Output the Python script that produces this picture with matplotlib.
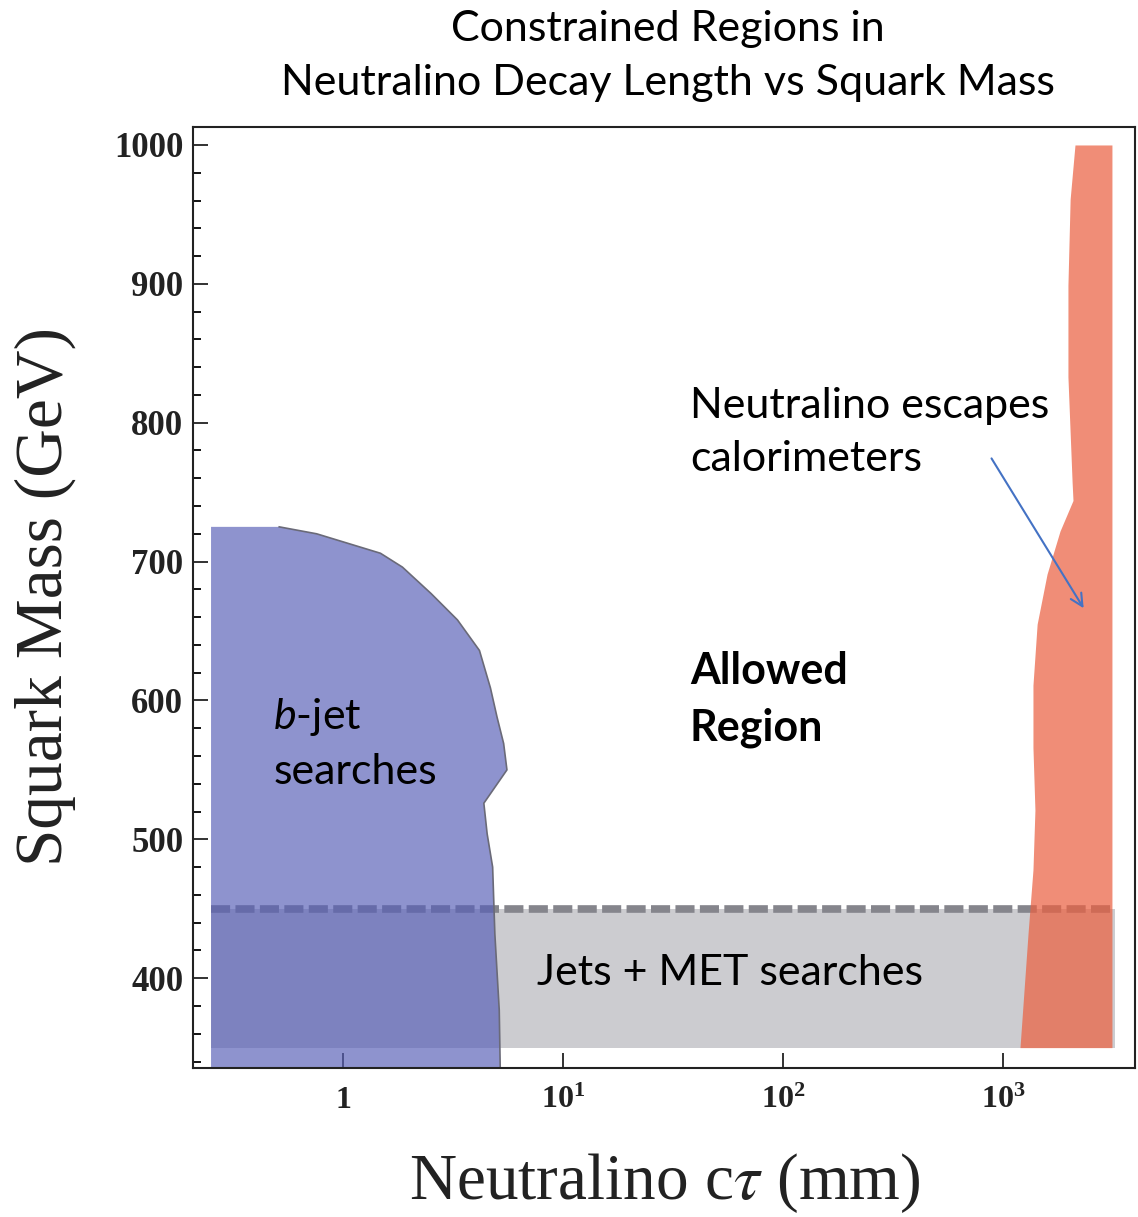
import numpy as np
import matplotlib
matplotlib.use('Agg')
import matplotlib.pyplot as plt
from matplotlib.ticker import MultipleLocator, NullLocator

plt.rcParams['mathtext.fontset'] = 'custom'
plt.rcParams['mathtext.rm'] = 'Lato'
plt.rcParams['mathtext.it'] = 'Lato:italic'

# region boundaries (x as log10 of c*tau in mm, y in GeV)
bjet_log_ct = [-0.6, -0.29, -0.12, 0.17, 0.27, 0.40, 0.52, 0.62, 0.67, 0.70,
               0.73, 0.745, 0.64, 0.655, 0.68, 0.69, 0.71, 0.715]
bjet_mass = [725, 725, 720, 706, 696, 677, 658, 636, 609, 588,
             569, 550, 526, 504, 480, 432, 377, 330]

escape_mass = [1000, 961, 899, 833, 757, 744, 722, 691, 655, 611, 566, 521, 478, 433, 350]
escape_log_ct_left = [3.327, 3.305, 3.295, 3.295, 3.314, 3.318, 3.259, 3.20, 3.155,
                      3.136, 3.136, 3.145, 3.136, 3.114, 3.077]
escape_log_ct_right = 3.495

met_mass = [350, 450]
met_log_ct = [-0.6, 3.51]

x_ticks = [1, 10, 100, 1000]
x_ticklabels = ['1', r'$\mathregular{10^{1}}$', r'$\mathregular{10^{2}}$', r'$\mathregular{10^{3}}$']
y_ticks = [400, 500, 600, 700, 800, 900, 1000]

serif = 'Liberation Serif'
sans = 'Lato'

fig = plt.figure(figsize=(11.38, 12.17), dpi=100)
ax = fig.add_axes([0.1696, 0.1224, 0.8278, 0.7732])
ax.set_xscale('log')
ax.set_xlim(10 ** -0.682, 10 ** 3.6)
ax.set_ylim(335.3, 1012.9)

# jets + MET band
ax.fill_between(10 ** np.array(met_log_ct), met_mass[0], met_mass[1],
                color='#9a9ba2', alpha=0.5, lw=0, zorder=1)
ax.plot(10 ** np.array(met_log_ct), [met_mass[1]] * 2, color='#85858c',
        lw=5.5, dashes=(2.5, 0.7), zorder=1.5)

# b-jet region
bx = 10 ** np.array(bjet_log_ct)
ax.fill(np.append(bx, bx[0]), np.append(bjet_mass, bjet_mass[-1]),
        color='#5860b7', alpha=0.68, lw=0, zorder=2)
ax.plot(bx[1:], bjet_mass[1:], color='#6a6a78', lw=1.2, zorder=2.5)

# calorimeter-escape region
ax.fill_betweenx(escape_mass, 10 ** np.array(escape_log_ct_left),
                 10 ** escape_log_ct_right, color='#eb6142', alpha=0.72,
                 lw=0, zorder=3)

ax.set_xticks(x_ticks)
ax.set_xticklabels(x_ticklabels)
ax.xaxis.set_minor_locator(NullLocator())
ax.set_yticks(y_ticks)
ax.yaxis.set_minor_locator(MultipleLocator(20))
ax.tick_params(axis='x', which='major', direction='in', length=11, width=1.3,
               top=False, pad=13, labelsize=23, colors='#222222')
ax.tick_params(axis='y', which='major', direction='in', length=11, width=1.3,
               right=False, pad=7, labelsize=25, colors='#222222')
ax.tick_params(axis='y', which='minor', direction='in', length=6, width=1.3,
               right=False)
for lab in ax.get_xticklabels() + ax.get_yticklabels():
    lab.set_family(serif)
    lab.set_weight('bold')
for sp in ax.spines.values():
    sp.set_linewidth(1.5)
    sp.set_color('#222222')

# labels
ax.text(10 ** -0.318, 569, '$b$-jet\nsearches', fontsize=31, family=sans,
        va='center', ha='left', linespacing=1.5, zorder=5)
ax.text(10 ** 1.577, 600.7, 'Allowed\nRegion', fontsize=31, family=sans,
        weight='bold', va='center', ha='left', linespacing=1.5, zorder=5)
ax.text(10 ** 1.577, 792.8, 'Neutralino escapes\ncalorimeters', fontsize=31,
        family=sans, va='center', ha='left', linespacing=1.5, zorder=5)
ax.text(10 ** 0.882, 403.6, 'Jets + MET searches', fontsize=31, family=sans,
        va='center', ha='left', zorder=5)
ax.annotate('', xy=(10 ** 3.373, 664.7), xytext=(10 ** 2.941, 776),
            arrowprops=dict(arrowstyle='->', color='#4472c4', lw=1.5,
                            mutation_scale=22), zorder=6)

fig.text(0.587, 0.954, 'Constrained Regions in\nNeutralino Decay Length vs Squark Mass',
         fontsize=31, family=sans, ha='center', va='center', linespacing=1.5)
fig.text(0.0395, 0.510, 'Squark Mass (GeV)', fontsize=48.5, family=serif,
         rotation=90, ha='center', va='center', color='#222222')
fig.text(0.584, 0.028, r'Neutralino c$\tau$ (mm)', fontsize=47, family=serif,
         math_fontfamily='stix', ha='center', va='center', color='#222222')

fig.savefig('out.png', dpi=100)
